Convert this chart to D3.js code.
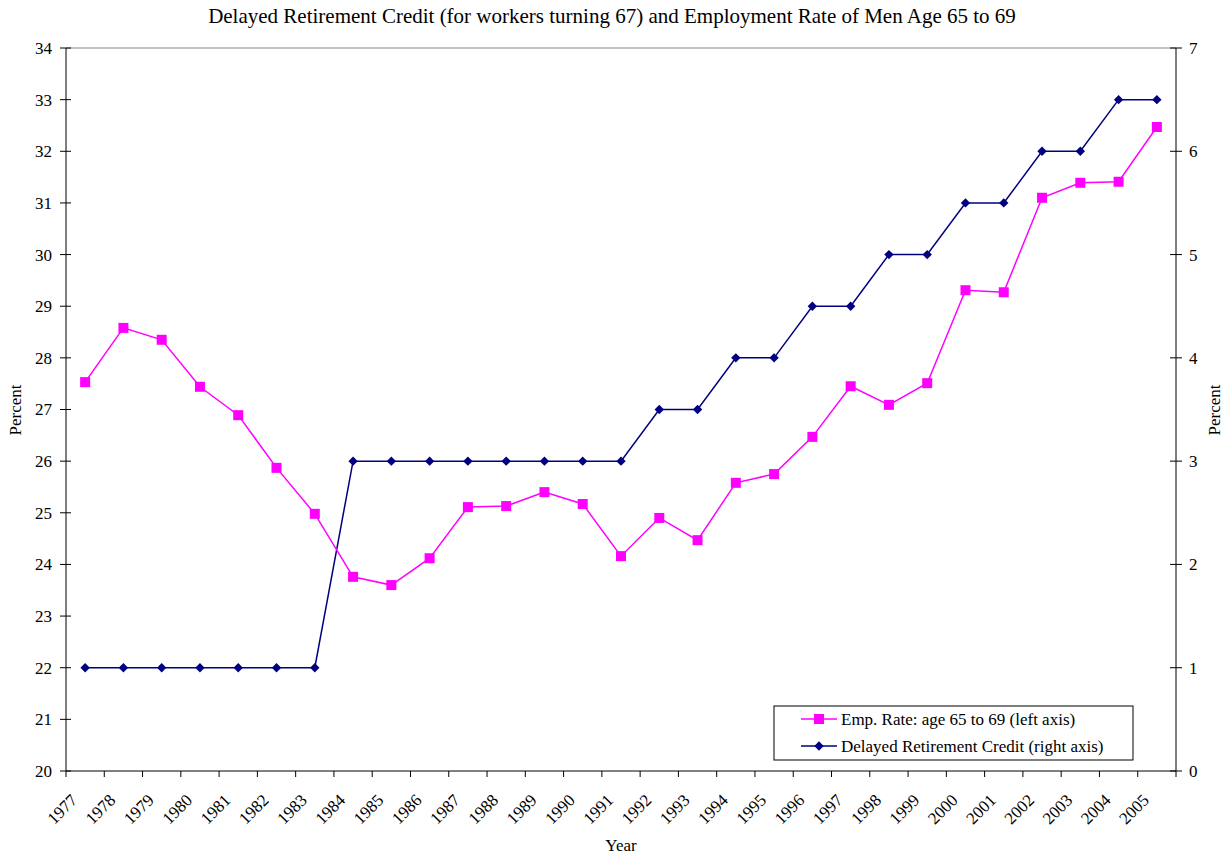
<!DOCTYPE html>
<html lang="en">
<head>
<meta charset="UTF-8">
<title>Delayed Retirement Credit and Employment Rate</title>
<style>
  body { margin: 0; background: #fff; }
  svg text { font-family: "Liberation Serif", "Times New Roman", serif; fill: #000; }
</style>
</head>
<body>
<svg id="chart"></svg>
<script src="https://cdnjs.cloudflare.com/ajax/libs/d3/7.8.5/d3.min.js"></script>
<script>
const years = ['1977','1978','1979','1980','1981','1982','1983','1984','1985','1986','1987','1988','1989','1990',
  '1991','1992','1993','1994','1995','1996','1997','1998','1999','2000','2001','2002','2003','2004','2005']
const empRate = [27.53, 28.58, 28.35, 27.44, 26.89, 25.87, 24.98, 23.76, 23.60, 24.12, 25.11, 25.13, 25.40, 25.17,
  24.16, 24.90, 24.47, 25.58, 25.75, 26.47, 27.45, 27.09, 27.51, 29.31, 29.27, 31.10, 31.39, 31.41, 32.47]
const drc = [1, 1, 1, 1, 1, 1, 1, 3, 3, 3, 3, 3, 3, 3, 3, 3.5, 3.5, 4, 4, 4.5, 4.5, 5, 5, 5.5, 5.5, 6, 6, 6.5, 6.5]
const leftTicks = d3.range(20, 35)
const rightTicks = d3.range(0, 8)

const W = 1228, H = 857
const m = {left: 66, right: 1176, top: 48, bottom: 771}
const fs = '17px'

const svg = d3.select('#chart').attr('width', W).attr('height', H)

const x = d3.scaleBand().domain(years).range([m.left, m.right])
const yL = d3.scaleLinear().domain([20, 34]).range([m.bottom, m.top])
const yR = d3.scaleLinear().domain([0, 7]).range([m.bottom, m.top])

// top border
svg.append('line').attr('x1', m.left).attr('x2', m.right).attr('y1', m.top).attr('y2', m.top)
  .attr('stroke', '#888').attr('stroke-width', 1)

// left axis
const gL = svg.append('g').attr('transform', `translate(${m.left},0)`)
gL.append('line').attr('y1', m.top).attr('y2', m.bottom).attr('stroke', '#000')
gL.selectAll('line.t').data(leftTicks).enter().append('line').attr('class', 't')
  .attr('x1', -6).attr('x2', 5).attr('y1', d => yL(d)).attr('y2', d => yL(d)).attr('stroke', '#000')
gL.selectAll('text').data(leftTicks).enter().append('text')
  .attr('x', -14).attr('y', d => yL(d)).attr('dy', '0.35em').attr('text-anchor', 'end')
  .style('font-size', fs).text(d => d)

// right axis
const gR = svg.append('g').attr('transform', `translate(${m.right},0)`)
gR.append('line').attr('y1', m.top).attr('y2', m.bottom).attr('stroke', '#000')
gR.selectAll('line.t').data(rightTicks).enter().append('line').attr('class', 't')
  .attr('x1', -6).attr('x2', 6).attr('y1', d => yR(d)).attr('y2', d => yR(d)).attr('stroke', '#000')
gR.selectAll('text').data(rightTicks).enter().append('text')
  .attr('x', 13).attr('y', d => yR(d)).attr('dy', '0.35em').attr('text-anchor', 'start')
  .style('font-size', fs).text(d => d)

// x axis
const gX = svg.append('g')
gX.append('line').attr('x1', m.left).attr('x2', m.right).attr('y1', m.bottom).attr('y2', m.bottom).attr('stroke', '#000')
const xTicks = years.map(d => x(d)).concat([m.right])
gX.selectAll('line.t').data(xTicks).enter().append('line').attr('class', 't')
  .attr('x1', d => d).attr('x2', d => d).attr('y1', m.bottom).attr('y2', m.bottom + 6).attr('stroke', '#000')
gX.selectAll('text').data(years).enter().append('text')
  .attr('text-anchor', 'end')
  .attr('transform', d => `translate(${x(d) + x.bandwidth() / 2 - 11},${m.bottom + 26}) rotate(-45)`)
  .attr('dy', '0.35em')
  .style('font-size', fs).text(d => d)

// axis titles
svg.append('text').attr('x', 621).attr('y', 851).attr('text-anchor', 'middle').style('font-size', fs).text('Year')
svg.append('text').attr('transform', `translate(21,410) rotate(-90)`).attr('text-anchor', 'middle')
  .style('font-size', fs).text('Percent')
svg.append('text').attr('transform', `translate(1220,410) rotate(-90)`).attr('text-anchor', 'middle')
  .style('font-size', fs).text('Percent')

// title
svg.append('text').attr('x', 612).attr('y', 23).attr('text-anchor', 'middle').style('font-size', '21px')
  .text('Delayed Retirement Credit (for workers turning 67) and Employment Rate of Men Age 65 to 69')

const cx = d => x(d) + x.bandwidth() / 2

// DRC line
svg.append('path').datum(drc)
  .attr('d', d3.line().x((d, i) => cx(years[i])).y(d => yR(d)))
  .attr('fill', 'none').attr('stroke', '#000080').attr('stroke-width', 1.5)
svg.selectAll('path.dia').data(drc).enter().append('path').attr('class', 'dia')
  .attr('d', d3.symbol().type(d3.symbolDiamond2).size(56))
  .attr('transform', (d, i) => `translate(${cx(years[i])},${yR(d)})`)
  .attr('fill', '#000080')

// Emp rate line
svg.append('path').datum(empRate)
  .attr('d', d3.line().x((d, i) => cx(years[i])).y(d => yL(d)))
  .attr('fill', 'none').attr('stroke', '#ff00ff').attr('stroke-width', 1.5)
svg.selectAll('rect.sq').data(empRate).enter().append('rect').attr('class', 'sq')
  .attr('x', (d, i) => cx(years[i]) - 5).attr('y', d => yL(d) - 5)
  .attr('width', 10).attr('height', 10).attr('fill', '#ff00ff')

// legend
const lg = svg.append('g').attr('transform', 'translate(774,706)')
lg.append('rect').attr('width', 359).attr('height', 54).attr('fill', '#fff').attr('stroke', '#000')
lg.append('line').attr('x1', 27).attr('x2', 63).attr('y1', 13).attr('y2', 13).attr('stroke', '#ff00ff').attr('stroke-width', 1.5)
lg.append('rect').attr('x', 40).attr('y', 8).attr('width', 10).attr('height', 10).attr('fill', '#ff00ff')
lg.append('text').attr('x', 67).attr('y', 13).attr('dy', '0.35em').style('font-size', fs).text('Emp. Rate: age 65 to 69 (left axis)')
lg.append('line').attr('x1', 27).attr('x2', 63).attr('y1', 40).attr('y2', 40).attr('stroke', '#000080').attr('stroke-width', 1.5)
lg.append('path').attr('d', d3.symbol().type(d3.symbolDiamond2).size(56)).attr('transform', 'translate(45,40)').attr('fill', '#000080')
lg.append('text').attr('x', 67).attr('y', 40).attr('dy', '0.35em').style('font-size', fs).text('Delayed Retirement Credit (right axis)')
</script>
</body>
</html>
